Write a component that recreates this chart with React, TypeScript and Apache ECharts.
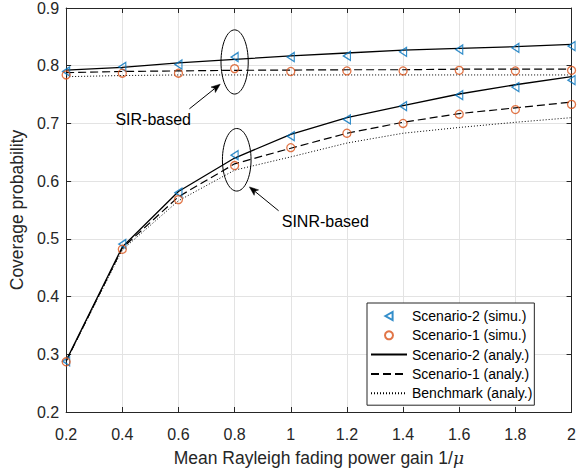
import React, { useEffect, useRef } from "react";
import * as echarts from "echarts";

const X_VALUES = [0.2, 0.4, 0.6, 0.8, 1.0, 1.2, 1.4, 1.6, 1.8, 2.0];
const X_TICKS = [0.2, 0.4, 0.6, 0.8, 1, 1.2, 1.4, 1.6, 1.8, 2];
const Y_TICKS = [0.2, 0.3, 0.4, 0.5, 0.6, 0.7, 0.8, 0.9];

// SIR-based curves
const s2SirSimu = [0.790, 0.798, 0.802, 0.815, 0.815, 0.817, 0.824, 0.828, 0.831, 0.834];
const s1SirSimu = [0.784, 0.787, 0.787, 0.795, 0.790, 0.791, 0.791, 0.792, 0.791, 0.792];
const s2SirAnaly = [0.7925, 0.797, 0.805, 0.811, 0.817, 0.822, 0.827, 0.830, 0.833, 0.837];
const s1SirAnaly = [0.788, 0.790, 0.791, 0.792, 0.7925, 0.793, 0.793, 0.794, 0.794, 0.794];
const benchSir = [0.781, 0.783, 0.784, 0.784, 0.784, 0.784, 0.784, 0.784, 0.784, 0.784];

// SINR-based curves
const s2SinrSimu = [0.288, 0.491, 0.580, 0.645, 0.678, 0.707, 0.730, 0.749, 0.763, 0.775];
const s1SinrSimu = [0.287, 0.482, 0.568, 0.627, 0.658, 0.683, 0.700, 0.716, 0.724, 0.733];
const s2SinrAnaly = [0.289, 0.486, 0.582, 0.640, 0.681, 0.710, 0.731, 0.751, 0.767, 0.781];
const s1SinrAnaly = [0.288, 0.484, 0.573, 0.630, 0.657, 0.683, 0.702, 0.717, 0.727, 0.737];
const benchSinr = [0.288, 0.481, 0.566, 0.619, 0.642, 0.666, 0.683, 0.693, 0.702, 0.710];

const NAMES = [
  "Scenario-2 (simu.)",
  "Scenario-1 (simu.)",
  "Scenario-2 (analy.)",
  "Scenario-1 (analy.)",
  "Benchmark (analy.)",
];

// Annotations in data coordinates
const SIR_ELLIPSE = { x: 0.8, y: 0.8065, rx: 0.0485, ry: 0.0556 };
const SIR_ARROW = { from: [0.639, 0.7253], to: [0.7487, 0.768] };
const SIR_LABEL = { text: "SIR-based", x: 0.51, y: 0.707 };
const SINR_ELLIPSE = { x: 0.8076, y: 0.637, rx: 0.051, ry: 0.0542 };
const SINR_ARROW = { from: [0.9567, 0.5487], to: [0.8527, 0.59] };
const SINR_LABEL = { text: "SINR-based", x: 1.123, y: 0.5304 };

const FONT = '"Liberation Sans", Arial, Helvetica, sans-serif';
const AXIS_COLOR = "#262626";
const BLUE = "#0072BD";
const ORANGE = "#D95319";
const TRI = "path://M0,5L9,0L9,10Z";

const pair = (ys: number[]) => X_VALUES.map((x, i) => [x, ys[i]]);
const fmt = (v: number) => String(parseFloat(v.toFixed(1)));

function lineSeries(name: string, ys: number[], type: any, width: number) {
  return {
    type: "line",
    name,
    data: pair(ys),
    symbol: "none",
    lineStyle: { color: "#000", width, type },
    itemStyle: { color: "#000" },
    z: 2,
    silent: true,
  };
}

function scatterSeries(name: string, ys: number[], symbol: string, size: any, color: string) {
  return {
    type: "scatter",
    name,
    data: pair(ys),
    symbol,
    symbolSize: size,
    itemStyle: { color: "rgba(255,255,255,0)", borderColor: color, borderWidth: 1.3 },
    z: 3,
    silent: true,
  };
}

export default function App() {
  const ref = useRef<HTMLDivElement>(null);

  useEffect(() => {
    if (!ref.current) return;
    const chart = echarts.init(ref.current, undefined, { renderer: "svg" });
    const xMin = X_TICKS[0];
    const xMax = X_TICKS[X_TICKS.length - 1];
    const yMin = Y_TICKS[0];
    const yMax = Y_TICKS[Y_TICKS.length - 1];

    const baseX = { type: "value", min: xMin, max: xMax, interval: 0.2 };
    const baseY = { type: "value", min: yMin, max: yMax, interval: 0.1 };

    const hiddenSymbol = { opacity: 0, color: "rgba(0,0,0,0)", borderWidth: 0 };

    chart.setOption({
      animation: false,
      backgroundColor: "#fff",
      grid: { left: 55, right: 5, top: 4, bottom: 59, containLabel: false },
      xAxis: [
        {
          ...baseX,
          position: "bottom",
          name: "{a|Mean Rayleigh fading power gain 1/}{b|μ}",
          nameLocation: "middle",
          nameGap: 37,
          nameTextStyle: {
            rich: {
              a: { fontFamily: FONT, fontSize: 17.5, color: AXIS_COLOR },
              b: { fontFamily: '"DejaVu Serif", serif', fontStyle: "italic", fontSize: 17, color: AXIS_COLOR },
            },
          },
          axisLine: { show: true, onZero: false, lineStyle: { color: AXIS_COLOR, width: 1 } },
          axisTick: { show: true, inside: true, length: 5, lineStyle: { color: AXIS_COLOR } },
          axisLabel: { fontFamily: FONT, fontSize: 16, color: AXIS_COLOR, margin: 14, formatter: fmt },
          splitLine: { show: true, lineStyle: { color: "#e3e3e3", width: 1 } },
        },
        {
          ...baseX,
          position: "top",
          axisLine: { show: true, onZero: false, lineStyle: { color: AXIS_COLOR, width: 1 } },
          axisTick: { show: true, inside: true, length: 5, lineStyle: { color: AXIS_COLOR } },
          axisLabel: { show: false },
          splitLine: { show: false },
        },
      ],
      yAxis: [
        {
          ...baseY,
          position: "left",
          name: "Coverage probability",
          nameLocation: "middle",
          nameGap: 32,
          nameTextStyle: { fontFamily: FONT, fontSize: 17.5, color: AXIS_COLOR },
          axisLine: { show: true, onZero: false, lineStyle: { color: AXIS_COLOR, width: 1 } },
          axisTick: { show: true, inside: true, length: 5, lineStyle: { color: AXIS_COLOR } },
          axisLabel: { fontFamily: FONT, fontSize: 16, color: AXIS_COLOR, margin: 7, formatter: fmt },
          splitLine: { show: true, lineStyle: { color: "#e3e3e3", width: 1 } },
        },
        {
          ...baseY,
          position: "right",
          axisLine: { show: true, onZero: false, lineStyle: { color: AXIS_COLOR, width: 1 } },
          axisTick: { show: true, inside: true, length: 5, lineStyle: { color: AXIS_COLOR } },
          axisLabel: { show: false },
          splitLine: { show: false },
        },
      ],
      legend: {
        orient: "vertical",
        left: 367,
        top: 303,
        padding: [6, 2, 5, 3],
        itemWidth: 36,
        itemHeight: 8,
        itemGap: 5.3,
        backgroundColor: "#fff",
        borderColor: AXIS_COLOR,
        borderWidth: 1,
        borderRadius: 0,
        selectedMode: false,
        textStyle: { fontFamily: FONT, fontSize: 14, color: "#000", lineHeight: 14 },
        data: [
          { name: NAMES[0] },
          { name: NAMES[1] },
          { name: NAMES[2], itemStyle: hiddenSymbol },
          { name: NAMES[3], itemStyle: hiddenSymbol },
          { name: NAMES[4], itemStyle: hiddenSymbol },
        ],
      },
      series: [
        lineSeries(NAMES[2], s2SirAnaly, "solid", 1.3),
        lineSeries(NAMES[3], s1SirAnaly, [8, 4], 1.2),
        lineSeries(NAMES[4], benchSir, [1, 2], 1),
        lineSeries(NAMES[2], s2SinrAnaly, "solid", 1.3),
        lineSeries(NAMES[3], s1SinrAnaly, [8, 4], 1.2),
        lineSeries(NAMES[4], benchSinr, [1, 2], 1),
        scatterSeries(NAMES[0], s2SirSimu, TRI, [7, 9], BLUE),
        scatterSeries(NAMES[1], s1SirSimu, "circle", 8, ORANGE),
        scatterSeries(NAMES[0], s2SinrSimu, TRI, [7, 9], BLUE),
        scatterSeries(NAMES[1], s1SinrSimu, "circle", 8, ORANGE),
      ],
    });

    const px = (x: number, y: number) => chart.convertToPixel({ seriesIndex: 0 }, [x, y]) as number[];

    const ellipse = (e: { x: number; y: number; rx: number; ry: number }) => {
      const c = px(e.x, e.y);
      const r = px(e.x + e.rx, e.y + e.ry);
      return {
        type: "ellipse",
        shape: { cx: c[0], cy: c[1], rx: Math.abs(r[0] - c[0]), ry: Math.abs(r[1] - c[1]) },
        style: { fill: "none", stroke: "#000", lineWidth: 1 },
        z: 10,
        silent: true,
      };
    };

    const arrow = (a: { from: number[]; to: number[] }) => {
      const p0 = px(a.from[0], a.from[1]);
      const p1 = px(a.to[0], a.to[1]);
      const dx = p1[0] - p0[0];
      const dy = p1[1] - p0[1];
      const len = Math.hypot(dx, dy);
      const ux = dx / len;
      const uy = dy / len;
      const hl = 9;
      const hw = 3.5;
      const bx = p1[0] - ux * hl;
      const by = p1[1] - uy * hl;
      return [
        {
          type: "line",
          shape: { x1: p0[0], y1: p0[1], x2: bx + ux * 2, y2: by + uy * 2 },
          style: { stroke: "#000", lineWidth: 1 },
          z: 10,
          silent: true,
        },
        {
          type: "polygon",
          shape: {
            points: [
              [p1[0], p1[1]],
              [bx - uy * hw, by + ux * hw],
              [bx + ux * 2, by + uy * 2],
              [bx + uy * hw, by - ux * hw],
            ],
          },
          style: { fill: "#000", stroke: "#000", lineWidth: 0.5 },
          z: 10,
          silent: true,
        },
      ];
    };

    const label = (l: { text: string; x: number; y: number }) => {
      const p = px(l.x, l.y);
      return {
        type: "text",
        x: p[0],
        y: p[1],
        style: {
          text: l.text,
          fontFamily: FONT,
          fontSize: 16,
          fill: "#000",
          textAlign: "center",
          textVerticalAlign: "middle",
          verticalAlign: "middle",
        },
        z: 10,
        silent: true,
      };
    };

    chart.setOption({
      graphic: [
        ellipse(SIR_ELLIPSE),
        ...arrow(SIR_ARROW),
        label(SIR_LABEL),
        ellipse(SINR_ELLIPSE),
        ...arrow(SINR_ARROW),
        label(SINR_LABEL),
      ],
    });

    return () => chart.dispose();
  }, []);

  return (
    <div
      ref={ref}
      style={{ position: "fixed", left: 0, top: 0, width: 579, height: 472, background: "#fff" }}
    />
  );
}
